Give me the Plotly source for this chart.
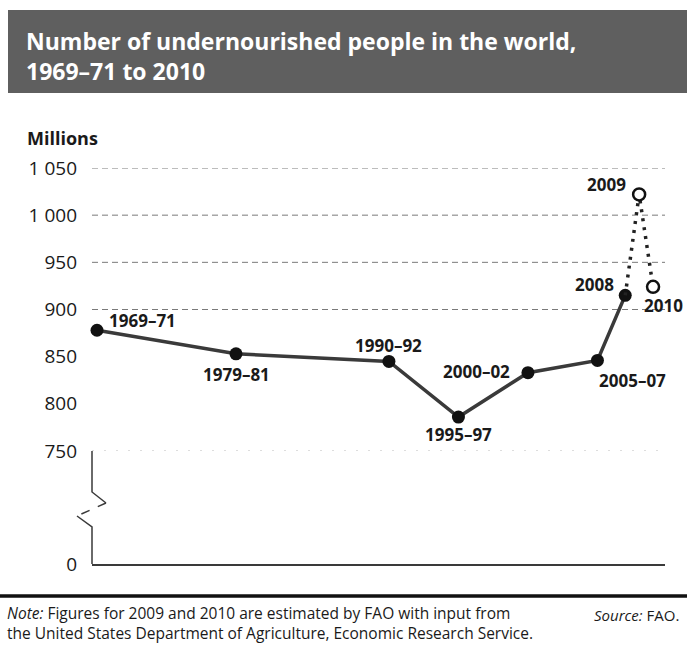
import plotly.graph_objects as go

W, H = 687, 646

# ---- data ----
periods = ["1969–71", "1979–81", "1990–92", "1995–97", "2000–02", "2005–07", "2008"]
period_mid = [1970, 1980, 1991, 1996, 2001, 2006, 2008]
observed = [878, 853, 845, 786, 833, 846, 915]

est_labels = ["2009", "2010"]
est_years = [2009, 2010]
estimated = [1022, 924]

y_ticks = [750, 800, 850, 900, 950, 1000, 1050]
y_ticktext = ["750", "800", "850", "900", "950", "1 000", "1 050"]
grid_levels = [900, 950, 1000, 1050]
faint_levels = [750]

title = "Number of undernourished people in the world,<br>1969–71 to 2010"
note = ("<i>Note:</i> Figures for 2009 and 2010 are estimated by FAO with input from<br>"
        "the United States Department of Agriculture, Economic Research Service.")
source = "<i>Source:</i> FAO."


def px(x):
    return x / W


def py(y):
    return 1 - y / H


FONT = "Open Sans"
DARK = "#1a1a1a"
LINE = "#3a3a3a"

fig = go.Figure()

# solid observed line
fig.add_trace(go.Scatter(
    x=period_mid, y=observed, mode="lines+markers",
    line=dict(color=LINE, width=3.5),
    marker=dict(size=13, color="#111111"),
    cliponaxis=False, hoverinfo="skip", showlegend=False,
    xaxis="x", yaxis="y",
))
# dotted estimate lines: 2008 -> 2009 -> 2010
fig.add_trace(go.Scatter(
    x=[period_mid[-1], est_years[0], est_years[1]],
    y=[observed[-1], estimated[0], estimated[1]],
    mode="lines", line=dict(color="#222222", width=3.5, dash="3px,6px"),
    cliponaxis=False, hoverinfo="skip", showlegend=False,
    xaxis="x", yaxis="y",
))
fig.add_trace(go.Scatter(
    x=est_years, y=estimated, mode="markers",
    marker=dict(size=12, color="white", line=dict(color="#111111", width=2.5)),
    cliponaxis=False, hoverinfo="skip", showlegend=False,
    xaxis="x", yaxis="y",
))
# empty trace so the lower (0) panel of the broken axis is drawn
fig.add_trace(go.Scatter(
    x=[None], y=[None], mode="markers", hoverinfo="skip", showlegend=False,
    xaxis="x2", yaxis="y2",
))

# data labels
label_style = [  # (xanchor, xshift, yshift)
    ("left", 10, 10),
    ("center", 0, -21),
    ("center", 0, 16),
    ("center", 0, -17),
    ("right", -16, 1),
    ("left", 0, -20),
    ("right", -9, 11),
]
annotations = []
for lab, xv, yv, (xa, xs, ys) in zip(periods, period_mid, observed, label_style):
    annotations.append(dict(
        x=xv, y=yv, xref="x", yref="y", text=f"<b>{lab}</b>", showarrow=False,
        xanchor=xa, yanchor="middle", xshift=xs, yshift=ys,
        font=dict(family=FONT, size=17, color=DARK),
    ))
est_style = [("right", -11, 10), ("left", -11, -19)]
for lab, xv, yv, (xa, xs, ys) in zip(est_labels, est_years, estimated, est_style):
    annotations.append(dict(
        x=xv, y=yv, xref="x", yref="y", text=f"<b>{lab}</b>", showarrow=False,
        xanchor=xa, yanchor="middle", xshift=xs, yshift=ys,
        font=dict(family=FONT, size=17, color=DARK),
    ))

# title, axis title, notes
annotations += [
    dict(x=px(24), y=py(56), xref="paper", yref="paper", text=f"<b>{title}</b>",
         showarrow=False, xanchor="left", yanchor="middle", align="left",
         font=dict(family=FONT, size=23, color="white")),
    dict(x=px(25), y=py(138), xref="paper", yref="paper", text="<b>Millions</b>",
         showarrow=False, xanchor="left", yanchor="middle",
         font=dict(family=FONT, size=18, color=DARK)),
    dict(x=px(5), y=py(623), xref="paper", yref="paper", text=note,
         showarrow=False, xanchor="left", yanchor="middle", align="left",
         font=dict(family=FONT, size=15.5, color=DARK)),
    dict(x=px(592), y=py(615), xref="paper", yref="paper", text=source,
         showarrow=False, xanchor="left", yanchor="middle", align="left",
         font=dict(family=FONT, size=15, color=DARK)),
]

xrange = [1969.64, 2010.86]
xdom = [px(92), px(665)]

shapes = [
    # title banner
    dict(type="rect", xref="paper", yref="paper", x0=px(8), x1=px(687), y0=py(93), y1=py(10),
         fillcolor="#5f5f5f", line=dict(width=0), layer="below"),
    # footer rule
    dict(type="line", xref="paper", yref="paper", x0=0, x1=1, y0=py(596), y1=py(596),
         line=dict(color="#111111", width=3.5)),
    # broken y axis
    dict(type="path", xref="paper", yref="paper",
         path=(f"M {px(92)},{py(451)} L {px(92)},{py(492)} L {px(106)},{py(503)}"),
         line=dict(color=LINE, width=1.5)),
    dict(type="path", xref="paper", yref="paper",
         path=(f"M {px(106)},{py(503)} L {px(77)},{py(516)}"),
         line=dict(color=LINE, width=1.5, dash="dash")),
    dict(type="path", xref="paper", yref="paper",
         path=(f"M {px(77)},{py(516)} L {px(92)},{py(527)} L {px(92)},{py(564)}"),
         line=dict(color=LINE, width=1.5)),
]
# horizontal grid lines (only some levels are ruled in the original)
for lv in grid_levels:
    shapes.append(dict(type="line", xref="paper", yref="y", x0=xdom[0], x1=xdom[1],
                       y0=lv, y1=lv, layer="below",
                       line=dict(color="#7a7a7a", width=1, dash="6px,4px")))
for lv in faint_levels:
    shapes.append(dict(type="line", xref="paper", yref="y", x0=xdom[0], x1=xdom[1],
                       y0=lv, y1=lv, layer="below",
                       line=dict(color="#bbbbbb", width=1, dash="2px,10px")))

fig.update_layout(
    width=W, height=H, margin=dict(l=0, r=0, t=0, b=0, pad=0, autoexpand=False),
    paper_bgcolor="white", plot_bgcolor="rgba(0,0,0,0)",
    showlegend=False,
    xaxis=dict(domain=xdom, range=xrange, visible=False, anchor="y", automargin=False),
    yaxis=dict(domain=[py(451), py(168)], range=[750, 1050], anchor="x",
               tickvals=y_ticks, ticktext=y_ticktext, ticks="", automargin=False,
               showgrid=False, zeroline=False, showline=False, ticklabelstandoff=14,
               tickfont=dict(family=FONT, size=19, color=DARK)),
    xaxis2=dict(domain=xdom, range=xrange, anchor="y2", showline=True, automargin=False,
                linecolor=LINE, linewidth=1.5, showticklabels=False, ticks="",
                showgrid=False, zeroline=False),
    yaxis2=dict(domain=[py(564), py(451)], range=[0, 120], anchor="x2", automargin=False,
                tickvals=[0], ticktext=["0"], ticks="", showgrid=False,
                zeroline=False, showline=False, ticklabelstandoff=14,
                tickfont=dict(family=FONT, size=19, color=DARK)),
    annotations=annotations,
    shapes=shapes,
)

fig.write_html("out.html")
